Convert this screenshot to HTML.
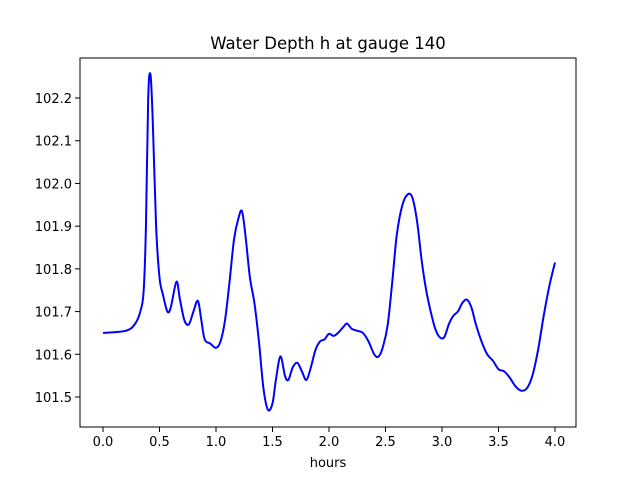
<!DOCTYPE html>
<html><head><meta charset="utf-8"><style>
body{margin:0;background:#fff}
svg{display:block;font-family:"DejaVu Sans","Liberation Sans",sans-serif}
</style></head><body>
<svg id="chart" width="640" height="480">
<rect width="640" height="480" fill="#fff"/>
<text x="328" y="49" font-size="16.5" text-anchor="middle">Water Depth h at gauge 140</text>
<g id="ticks"></g>
<path id="line" fill="none" stroke="#0000ff" stroke-width="2"/>
<rect x="80" y="58" width="496" height="369" fill="none" stroke="#000" stroke-width="1"/>
<text x="328" y="467" font-size="13" text-anchor="middle">hours</text>
</svg>
<script>
const hours=[0,0.2,0.28,0.33,0.36,0.38,0.40,0.42,0.44,0.47,0.50,0.53,0.57,0.60,0.65,0.68,0.72,0.76,0.80,0.84,0.87,0.90,0.95,1.00,1.04,1.08,1.12,1.16,1.20,1.23,1.26,1.30,1.34,1.38,1.42,1.46,1.50,1.53,1.57,1.61,1.64,1.68,1.72,1.76,1.80,1.84,1.88,1.92,1.96,2.00,2.04,2.08,2.13,2.16,2.20,2.25,2.30,2.35,2.40,2.44,2.48,2.52,2.56,2.60,2.65,2.70,2.74,2.78,2.82,2.86,2.90,2.94,2.98,3.02,3.06,3.10,3.14,3.18,3.22,3.26,3.30,3.35,3.40,3.45,3.50,3.55,3.60,3.65,3.70,3.75,3.80,3.85,3.90,3.95,4.00];
const depth=[101.65,101.655,101.67,101.70,101.75,101.9,102.2,102.255,102.15,101.9,101.78,101.74,101.70,101.71,101.77,101.73,101.68,101.67,101.70,101.725,101.68,101.635,101.625,101.615,101.63,101.68,101.77,101.87,101.92,101.935,101.88,101.78,101.72,101.63,101.52,101.47,101.485,101.54,101.595,101.55,101.54,101.57,101.58,101.56,101.54,101.57,101.61,101.63,101.635,101.648,101.643,101.65,101.665,101.672,101.66,101.655,101.65,101.63,101.60,101.595,101.62,101.67,101.77,101.88,101.95,101.975,101.965,101.91,101.82,101.75,101.70,101.66,101.64,101.64,101.67,101.69,101.70,101.72,101.728,101.71,101.67,101.63,101.60,101.585,101.565,101.56,101.545,101.525,101.515,101.52,101.55,101.61,101.69,101.76,101.815];
const xTicks=["0.0","0.5","1.0","1.5","2.0","2.5","3.0","3.5","4.0"];
const yTicks=["101.5","101.6","101.7","101.8","101.9","102.0","102.1","102.2"];
const X=v=>103+v*113;
const Y=v=>397-(v-101.5)*427.1;
const NS="http://www.w3.org/2000/svg";
const g=document.getElementById('ticks');
xTicks.forEach(t=>{const x=X(+t);
const l=document.createElementNS(NS,'line');


l.setAttribute('x1',x);l.setAttribute('x2',x);l.setAttribute('y1',427);l.setAttribute('y2',432);l.setAttribute('stroke','#000');g.appendChild(l);
const tx=document.createElementNS(NS,'text');


tx.setAttribute('x',x);tx.setAttribute('y',446);tx.setAttribute('font-size','13');tx.setAttribute('text-anchor','middle');tx.textContent=t;g.appendChild(tx);});
yTicks.forEach(t=>{const y=Y(+t);
const l=document.createElementNS(NS,'line');


l.setAttribute('x1',75);l.setAttribute('x2',80);l.setAttribute('y1',y);l.setAttribute('y2',y);l.setAttribute('stroke','#000');g.appendChild(l);
const tx=document.createElementNS(NS,'text');


tx.setAttribute('x',72);tx.setAttribute('y',y+5);tx.setAttribute('font-size','13');tx.setAttribute('text-anchor','end');tx.textContent=t;g.appendChild(tx);});
const P=hours.map((h,i)=>[X(h),Y(depth[i])]);
let d='M'+P[0][0]+','+P[0][1];
for(let i=0;i<P.length-1;i++){const p0=P[Math.max(0,i-1)],p1=P[i],p2=P[i+1],p3=P[Math.min(P.length-1,i+2)];
const c1=[p1[0]+(p2[0]-p0[0])/6,p1[1]+(p2[1]-p0[1])/6],c2=[p2[0]-(p3[0]-p1[0])/6,p2[1]-(p3[1]-p1[1])/6];
d+=`C${c1[0]},${c1[1]} ${c2[0]},${c2[1]} ${p2[0]},${p2[1]}`;}
document.getElementById('line').setAttribute('d',d);
</script>
</body></html>
